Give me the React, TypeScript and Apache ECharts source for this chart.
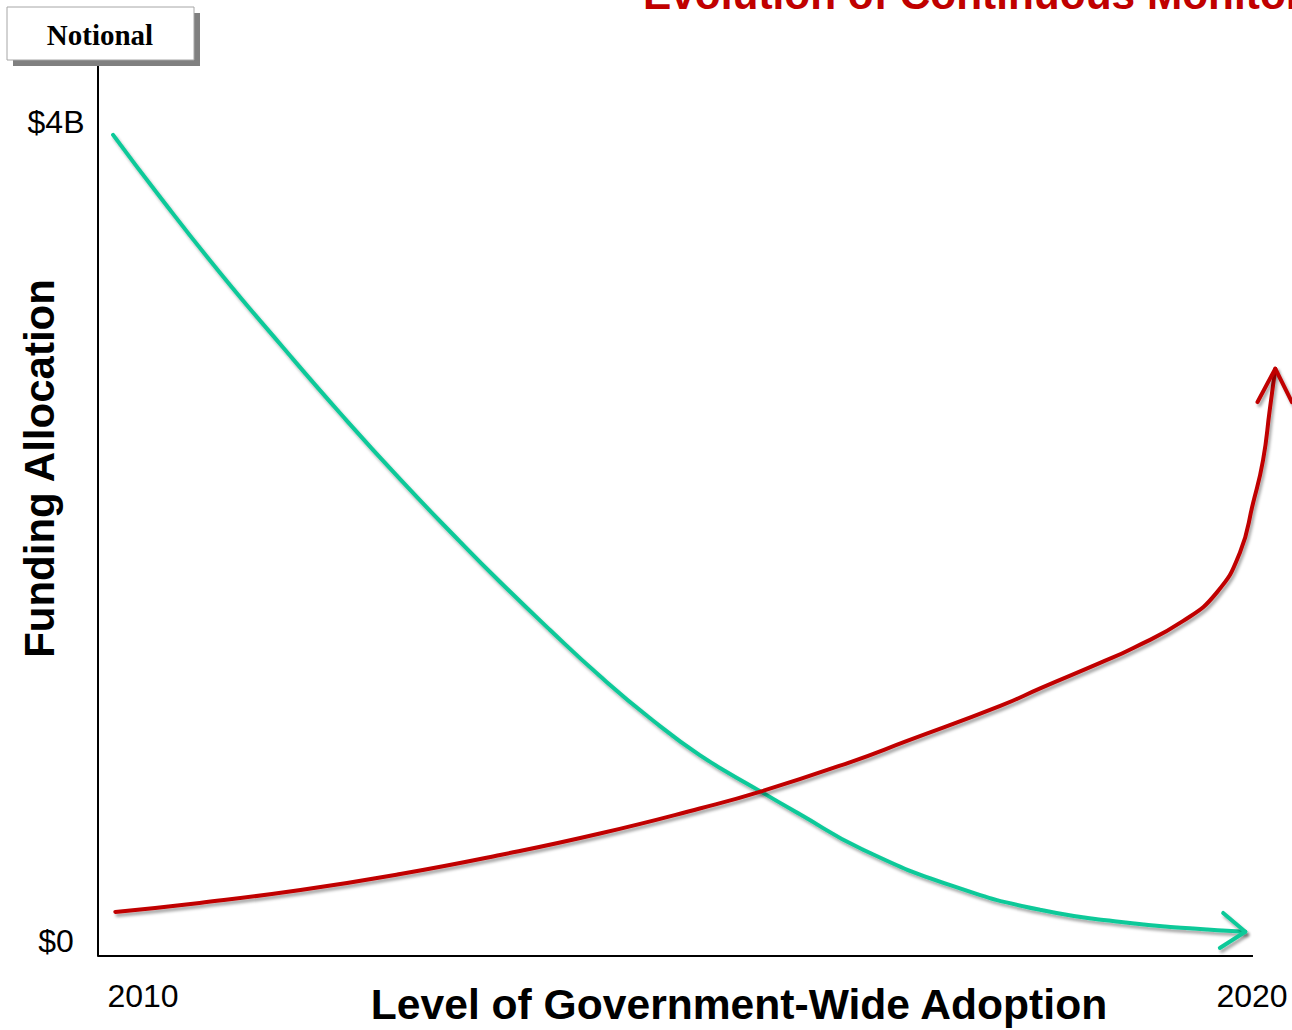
import React, { useEffect, useRef } from 'react';
import * as echarts from 'echarts';

// Axis ticks
const xTickValues = [2010, 2020];
const yTickValues = [0, 4];
const yTickLabels = ['$0', '$4B'];

// Extent of the horizontal axis and of the visible baseline
const xMin = 2009.594;
const xMax = 2020.451;
const baselineEnd = 2020.009;
const yMin = -0.0733;
const yMax = 4.278;

// Declining allocation (green)
const declineYears = [
  2009.73, 2010.15, 2010.69, 2011.24, 2011.78, 2012.32, 2012.86, 2013.22, 2013.67, 2014.12,
  2014.57, 2015.02, 2015.56, 2015.92, 2016.48, 2017.3, 2018.1, 2018.9, 2019.44, 2019.94,
];
const declineFunding = [
  3.937, 3.636, 3.266, 2.913, 2.576, 2.254, 1.949, 1.753, 1.519, 1.294,
  1.089, 0.908, 0.733, 0.62, 0.449, 0.269, 0.151, 0.088, 0.062, 0.045,
];
// Arrow head at the end of the declining curve
const declineArrowYears = [2019.74, 2019.94, 2019.71];
const declineArrowFunding = [0.137, 0.045, -0.034];

// Growing allocation (red)
const growthYears = [
  2009.75, 2010.51, 2011.42, 2012.32, 2013.22, 2014.12, 2015.02, 2015.56, 2016.38, 2016.89,
  2017.73, 2018.1, 2018.63, 2018.93, 2019.38, 2019.68, 2019.89, 2020.01, 2020.1, 2020.16, 2020.21,
];
const growthFunding = [
  0.142, 0.186, 0.249, 0.327, 0.42, 0.525, 0.647, 0.728, 0.874, 0.977,
  1.148, 1.236, 1.358, 1.431, 1.563, 1.7, 1.895, 2.139, 2.349, 2.593, 2.795,
];
// Arrow head at the end of the growing curve
const growthArrowYears = [2020.05, 2020.21, 2020.36];
const growthArrowFunding = [2.632, 2.795, 2.632];

const GREEN = '#0DC999';
const RED = '#C00000';
const SANS = '"Liberation Sans", Arial, Helvetica, sans-serif';

const zip = (xs: number[], ys: number[]) => xs.map((x, i) => [x, ys[i]]);

const shadow = {
  shadowColor: 'rgba(0,0,0,0.35)',
  shadowBlur: 3,
  shadowOffsetX: 2,
  shadowOffsetY: 3,
};

function lineSeries(name: string, data: number[][], color: string, smooth: boolean, extra: object = {}) {
  return {
    name,
    type: 'line',
    data,
    smooth,
    symbol: 'none',
    clip: false,
    silent: true,
    lineStyle: { color, width: 4, cap: 'round', join: 'round', ...shadow },
    z: 3,
    ...extra,
  };
}

export default function App() {
  const ref = useRef<HTMLDivElement>(null);

  useEffect(() => {
    if (!ref.current) return;
    const chart = echarts.init(ref.current, undefined, { renderer: 'svg' });
    chart.setOption({
      animation: false,
      backgroundColor: '#ffffff',
      title: {
        text: 'Evolution of Continuous Monitoring',
        left: 638,
        top: -32,
        textStyle: { color: RED, fontSize: 42.4, fontWeight: 'bold', fontFamily: SANS },
      },
      grid: { left: 98, right: -10, top: 65, bottom: 74, containLabel: false, outerBoundsMode: 'none' },
      xAxis: {
        type: 'value',
        min: xMin,
        max: xMax,
        name: 'Level of Government-Wide Adoption',
        nameLocation: 'middle',
        nameGap: 26,
        nameMoveOverlap: false,
        nameTextStyle: {
          color: '#000',
          fontSize: 42.6,
          fontWeight: 'bold',
          fontFamily: SANS,
          padding: [0, 0, 0, 78],
        },
        axisLine: { show: false },
        axisTick: { show: false },
        splitLine: { show: false },
        axisLabel: {
          customValues: xTickValues,
          formatter: (v: number) => String(Math.round(v)),
          color: '#000',
          fontSize: 32,
          fontFamily: SANS,
          margin: 24,
        },
      },
      yAxis: {
        type: 'value',
        min: yMin,
        max: yMax,
        name: 'Funding Allocation',
        nameLocation: 'middle',
        nameGap: 38,
        nameMoveOverlap: false,
        nameTextStyle: {
          color: '#000',
          fontSize: 42,
          fontWeight: 'bold',
          fontFamily: SANS,
          padding: [0, 0, 0, 84],
        },
        axisLine: { show: true, lineStyle: { color: '#000', width: 2 } },
        axisTick: { show: false },
        splitLine: { show: false },
        axisLabel: {
          customValues: yTickValues,
          formatter: (v: number) => yTickLabels[yTickValues.indexOf(Math.round(v))] ?? '',
          color: '#000',
          fontSize: 32,
          fontFamily: SANS,
          align: 'center',
          margin: 42,
        },
      },
      graphic: [
        {
          type: 'rect',
          shape: { x: 13, y: 13, width: 187, height: 53 },
          style: { fill: '#808080' },
          z: 10,
        },
        {
          type: 'rect',
          shape: { x: 7, y: 7, width: 187, height: 53 },
          style: { fill: '#ffffff', stroke: '#A6A6A6', lineWidth: 1 },
          z: 11,
        },
        {
          type: 'text',
          x: 100,
          y: 35,
          style: {
            text: 'Notional',
            fill: '#000',
            font: 'bold 29px "Liberation Serif", "Times New Roman", serif',
            align: 'center',
            verticalAlign: 'middle',
          },
          z: 12,
        },
      ],
      series: [
        lineSeries('decline', zip(declineYears, declineFunding), GREEN, true, {
          // horizontal baseline of the chart
          markLine: {
            silent: true,
            symbol: ['none', 'none'],
            label: { show: false },
            lineStyle: { color: '#000', width: 2, type: 'solid', shadowBlur: 0, shadowOffsetX: 0, shadowOffsetY: 0 },
            emphasis: { disabled: true },
            data: [[{ coord: [xMin, yMin] }, { coord: [baselineEnd, yMin] }]],
          },
        }),
        lineSeries('decline-arrow', zip(declineArrowYears, declineArrowFunding), GREEN, false),
        lineSeries('growth', zip(growthYears, growthFunding), RED, true),
        lineSeries('growth-arrow', zip(growthArrowYears, growthArrowFunding), RED, false),
      ],
    });
    return () => chart.dispose();
  }, []);

  return (
    <div
      ref={ref}
      style={{ position: 'absolute', left: 0, top: 0, width: 1292, height: 1030 }}
    />
  );
}
